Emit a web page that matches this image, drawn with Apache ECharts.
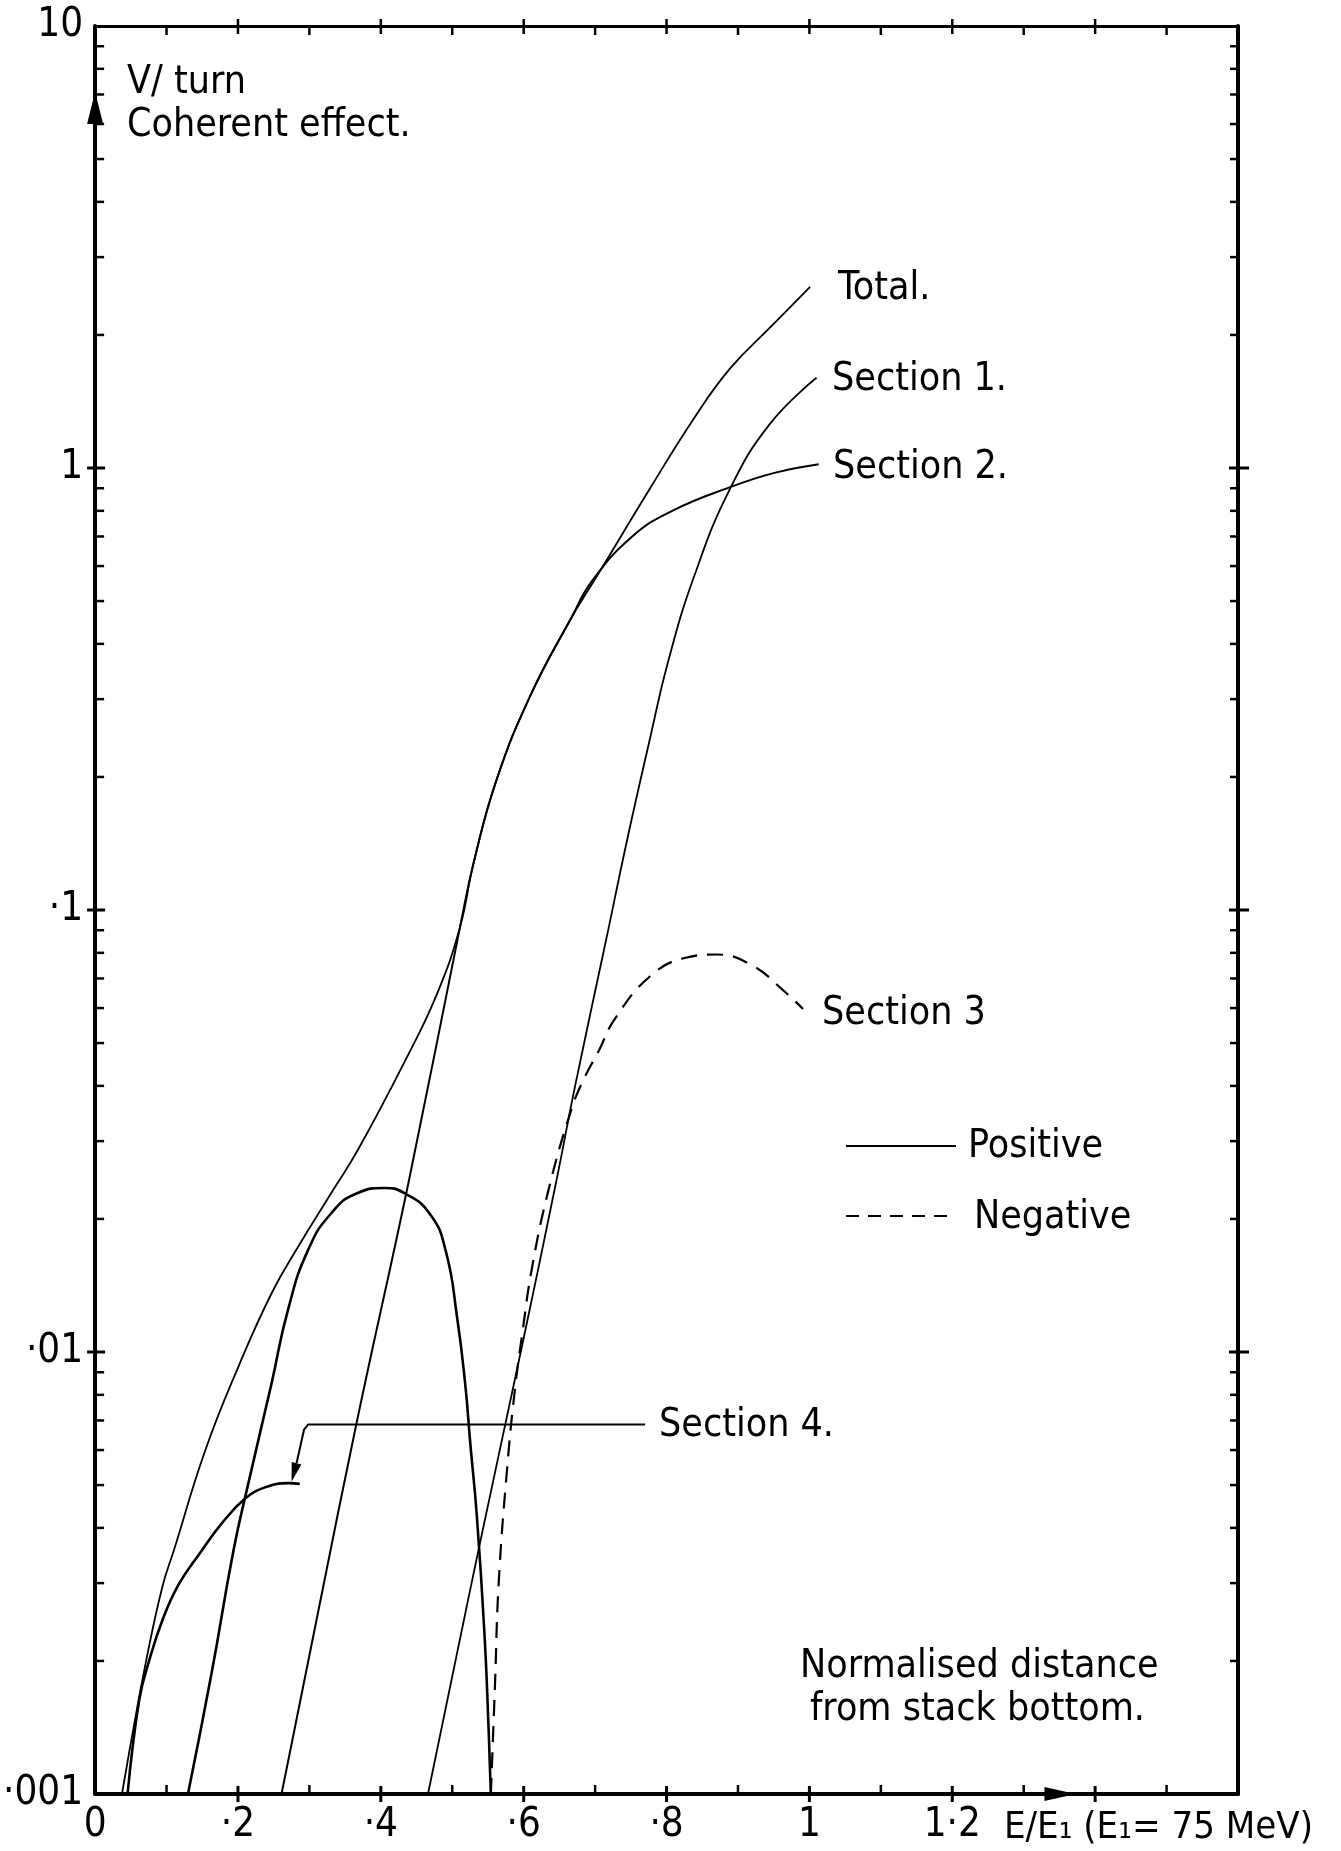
<!DOCTYPE html>
<html>
<head>
<meta charset="utf-8">
<script src="https://cdn.jsdelivr.net/npm/echarts@6/dist/echarts.min.js"></script>
<style>
  html, body { margin: 0; padding: 0; background: #fff; }
  #chart { width: 1341px; height: 1851px; }
</style>
</head>
<body>
<div id="chart"></div>
<script>
// values: x = E/E1, y = V/turn (log scale)
const totalX = [0.0376, 0.0524, 0.0709, 0.0941, 0.1103, 0.1544, 0.2007, 0.2471, 0.2842, 0.3306, 0.3676, 0.4325, 0.479, 0.511, 0.530, 0.562, 0.610, 0.666, 0.703, 0.777, 0.839, 0.889, 0.945, 1.001]
const totalY = [0.001, 0.00137, 0.00198, 0.00294, 0.00356, 0.0060, 0.00927, 0.01358, 0.0173, 0.0229, 0.0286, 0.0451, 0.0648, 0.0917, 0.128, 0.197, 0.307, 0.456, 0.571, 0.90, 1.30, 1.68, 2.08, 2.57]

const sec1X = [0.466, 0.537, 0.597, 0.646, 0.672, 0.715, 0.746, 0.777, 0.802, 0.839, 0.889, 0.945, 1.010]
const sec1Y = [0.001, 0.00358, 0.0102, 0.0245, 0.040, 0.085, 0.147, 0.245, 0.364, 0.571, 0.898, 1.26, 1.60]

const sec2X = [0.261, 0.363, 0.4395, 0.511, 0.530, 0.562, 0.610, 0.666, 0.696, 0.752, 0.808, 0.889, 0.951, 1.013]
const sec2Y = [0.001, 0.00654, 0.0245, 0.0917, 0.128, 0.197, 0.307, 0.456, 0.556, 0.70, 0.80, 0.905, 0.975, 1.02]

// section 3 positive (solid) and negative (dashed)
const sec3PosX = [0.130, 0.1637, 0.1938, 0.2146, 0.2471, 0.2703, 0.2981, 0.3306, 0.3676, 0.4047, 0.4325, 0.469, 0.491, 0.5067, 0.518, 0.5253, 0.5345, 0.545, 0.551, 0.554]
const sec3PosY = [0.001, 0.0019, 0.00356, 0.00505, 0.0085, 0.0125, 0.0170, 0.0206, 0.0229, 0.0235, 0.0229, 0.0205, 0.0169, 0.0120, 0.0085, 0.0062, 0.00424, 0.00232, 0.00139, 0.001]
const sec3NegX = [0.554, 0.560, 0.565, 0.577, 0.588, 0.599, 0.611, 0.634, 0.6666, 0.684, 0.705, 0.727, 0.777, 0.827, 0.870, 0.920, 0.963, 0.991]
const sec3NegY = [0.001, 0.0018, 0.003, 0.0055, 0.0083, 0.0113, 0.0153, 0.023, 0.0353, 0.0414, 0.048, 0.0565, 0.0708, 0.078, 0.0793, 0.0749, 0.0659, 0.0597]

const sec4X = [0.0455, 0.0617, 0.0756, 0.0941, 0.117, 0.1474, 0.1776, 0.210, 0.2378, 0.2703, 0.2865]
const sec4Y = [0.001, 0.00163, 0.0020, 0.00247, 0.00298, 0.00352, 0.00410, 0.00466, 0.00494, 0.00505, 0.00503]

// leader line for the "Section 4." label, ending at the arrow base
const leaderX = [0.770, 0.2981, 0.2925, 0.282]
const leaderY = [0.00685, 0.00685, 0.00667, 0.0056]
const leaderTip = [0.275, 0.00509]

// axis decoration
const xLabels = { 0: '0', 2: '·2', 4: '·4', 6: '·6', 8: '·8', 10: '1', 12: '1·2' }
const yLabels = { '-3': '·001', '-2': '·01', '-1': '·1', '0': '1', '1': '10' }
const xMajorTicks = [0.2, 0.4, 0.6, 0.8, 1.0, 1.2, 1.4]
const xMinorTicks = [0.1, 0.3, 0.5, 0.7, 0.9, 1.1, 1.3, 1.5]
const yMajorTicks = [0.01, 0.1, 1]
const yMinorTicks = [
  0.002, 0.003, 0.004, 0.005, 0.006, 0.007, 0.008, 0.009,
  0.02, 0.03, 0.04, 0.05, 0.06, 0.07, 0.08, 0.09,
  0.2, 0.3, 0.4, 0.5, 0.6, 0.7, 0.8, 0.9,
  2, 3, 4, 5, 6, 7, 8, 9
]
const yArrow = { base: [0, 6.0], tip: [0, 7.1] }
const xArrow = { base: [1.329, 0.001], tip: [1.373, 0.001] }

const zip = (xs, ys) => xs.map((x, i) => [x, ys[i]])

const FONT = "'DejaVu Sans Condensed', 'DejaVu Sans', sans-serif"
const TICKFONT = "'Liberation Sans Narrow', 'DejaVu Sans Condensed', sans-serif"

const chart = echarts.init(document.getElementById('chart'), null, { renderer: 'canvas' })

function curve(name, data, extra) {
  return Object.assign({
    name, type: 'line', data,
    smooth: 0.45, symbol: 'none', showSymbol: false,
    lineStyle: { color: '#000', width: 2 },
    animation: false, z: 3
  }, extra || {})
}

function seg(x1, y1, x2, y2, w) {
  return { type: 'line', shape: { x1, y1, x2, y2 }, style: { stroke: '#000', lineWidth: w || 2.5 } }
}

function arrowHead(api, base, tip, half) {
  const b = api.coord(base), t = api.coord(tip)
  const dx = t[0] - b[0], dy = t[1] - b[1]
  const len = Math.hypot(dx, dy)
  const nx = -dy / len * half, ny = dx / len * half
  return {
    type: 'polygon',
    shape: { points: [[b[0] + nx, b[1] + ny], t, [b[0] - nx, b[1] - ny]] },
    style: { fill: '#000' }
  }
}

function renderDecor(params, api) {
  const kids = []
  xMajorTicks.forEach(v => {
    const b = api.coord([v, 0.001]), t = api.coord([v, 10])
    kids.push(seg(b[0], b[1] - 8, b[0], b[1] + 8, 3))
    kids.push(seg(t[0], t[1] - 7, t[0], t[1] + 8, 2.5))
  })
  xMinorTicks.forEach(v => {
    const b = api.coord([v, 0.001]), t = api.coord([v, 10])
    kids.push(seg(b[0], b[1], b[0], b[1] - 9, 2.5))
    kids.push(seg(t[0], t[1], t[0], t[1] + 9, 2.5))
  })
  yMajorTicks.forEach(v => {
    const l = api.coord([0, v]), r = api.coord([1.6, v])
    kids.push(seg(l[0] - 8, l[1], l[0] + 10, l[1], 3))
    kids.push(seg(r[0] - 9, r[1], r[0] + 11, r[1], 3))
  })
  yMinorTicks.forEach(v => {
    const l = api.coord([0, v]), r = api.coord([1.6, v])
    kids.push(seg(l[0], l[1], l[0] + 9, l[1], 2.5))
    kids.push(seg(r[0], r[1], r[0] - 8, r[1], 2.5))
  })
  kids.push(arrowHead(api, yArrow.base, yArrow.tip, 8))
  kids.push(arrowHead(api, xArrow.base, xArrow.tip, 7))
  kids.push(arrowHead(api, [leaderX[3], leaderY[3]], leaderTip, 5))
  return { type: 'group', children: kids }
}

function text(str, left, y, size, font) {
  return {
    type: 'text', left, top: y - size * 0.45, z: 10,
    style: { text: str, fill: '#000', font: `${size}px ${font || FONT}` }
  }
}

chart.setOption({
  backgroundColor: '#fff',
  animation: false,
  grid: { left: 89, right: 103, top: 26, bottom: 57 },
  xAxis: [
    {
      type: 'value', min: 0, max: 1.6, interval: 0.2, position: 'bottom',
      axisLine: { onZero: false, lineStyle: { color: '#000', width: 4 } },
      axisTick: { show: false }, splitLine: { show: false },
      axisLabel: {
        color: '#000', fontSize: 40, fontFamily: TICKFONT, margin: 12,
        formatter: v => xLabels[Math.round(v * 10)] || ''
      }
    },
    {
      type: 'value', min: 0, max: 1.6, interval: 0.2, position: 'top',
      axisLine: { onZero: false, lineStyle: { color: '#000', width: 3 } },
      axisTick: { show: false }, splitLine: { show: false }, axisLabel: { show: false }
    }
  ],
  yAxis: [
    {
      type: 'log', logBase: 10, min: 0.001, max: 10, position: 'left',
      axisLine: { show: true, onZero: false, lineStyle: { color: '#000', width: 4 } },
      axisTick: { show: false }, splitLine: { show: false },
      axisLabel: {
        color: '#000', fontSize: 40, fontFamily: TICKFONT, margin: 12,
        formatter: v => yLabels[String(Math.round(Math.log10(v)))] || ''
      }
    },
    {
      type: 'log', logBase: 10, min: 0.001, max: 10, position: 'right',
      axisLine: { show: true, onZero: false, lineStyle: { color: '#000', width: 4 } },
      axisTick: { show: false }, splitLine: { show: false }, axisLabel: { show: false }
    }
  ],
  series: [
    curve('Total', zip(totalX, totalY), { lineStyle: { color: '#000', width: 1.8 } }),
    curve('Section 1', zip(sec1X, sec1Y), { lineStyle: { color: '#000', width: 1.8 } }),
    curve('Section 2', zip(sec2X, sec2Y)),
    curve('Section 3 positive', zip(sec3PosX, sec3PosY), { smooth: 0.5, lineStyle: { color: '#000', width: 2.6 } }),
    curve('Section 3 negative', zip(sec3NegX, sec3NegY), { lineStyle: { color: '#000', width: 2.2, type: [16, 10] } }),
    curve('Section 4', zip(sec4X, sec4Y), { lineStyle: { color: '#000', width: 2.6 } }),
    curve('Section 4 leader', zip(leaderX, leaderY), { smooth: false, lineStyle: { color: '#000', width: 2 } }),
    {
      type: 'custom', name: 'decor', coordinateSystem: 'cartesian2d',
      data: [[0.8, 1]], renderItem: renderDecor, clip: false, silent: true, z: 5
    }
  ],
  graphic: [
    text('V/ turn', 127, 81, 39),
    text('Coherent effect.', 127, 124, 39),
    text('Total.', 838, 287, 39),
    text('Section 1.', 832, 378, 39),
    text('Section 2.', 833, 466, 39),
    text('Section 3', 822, 1012, 39),
    text('Section 4.', 659, 1424, 39),
    text('Positive', 968, 1145, 39),
    text('Negative', 974, 1216, 39),
    text('Normalised distance', 800, 1665, 39),
    text('from stack bottom.', 810, 1708, 39),
    text('E/E\u2081 (E\u2081= 75 MeV)', 1004, 1826, 38),
    { type: 'line', shape: { x1: 846, y1: 1146, x2: 956, y2: 1146 }, style: { stroke: '#000', lineWidth: 2 } },
    { type: 'line', shape: { x1: 846, y1: 1216, x2: 956, y2: 1216 }, style: { stroke: '#000', lineWidth: 2, lineDash: [13, 9] } }
  ]
})
</script>
</body>
</html>
